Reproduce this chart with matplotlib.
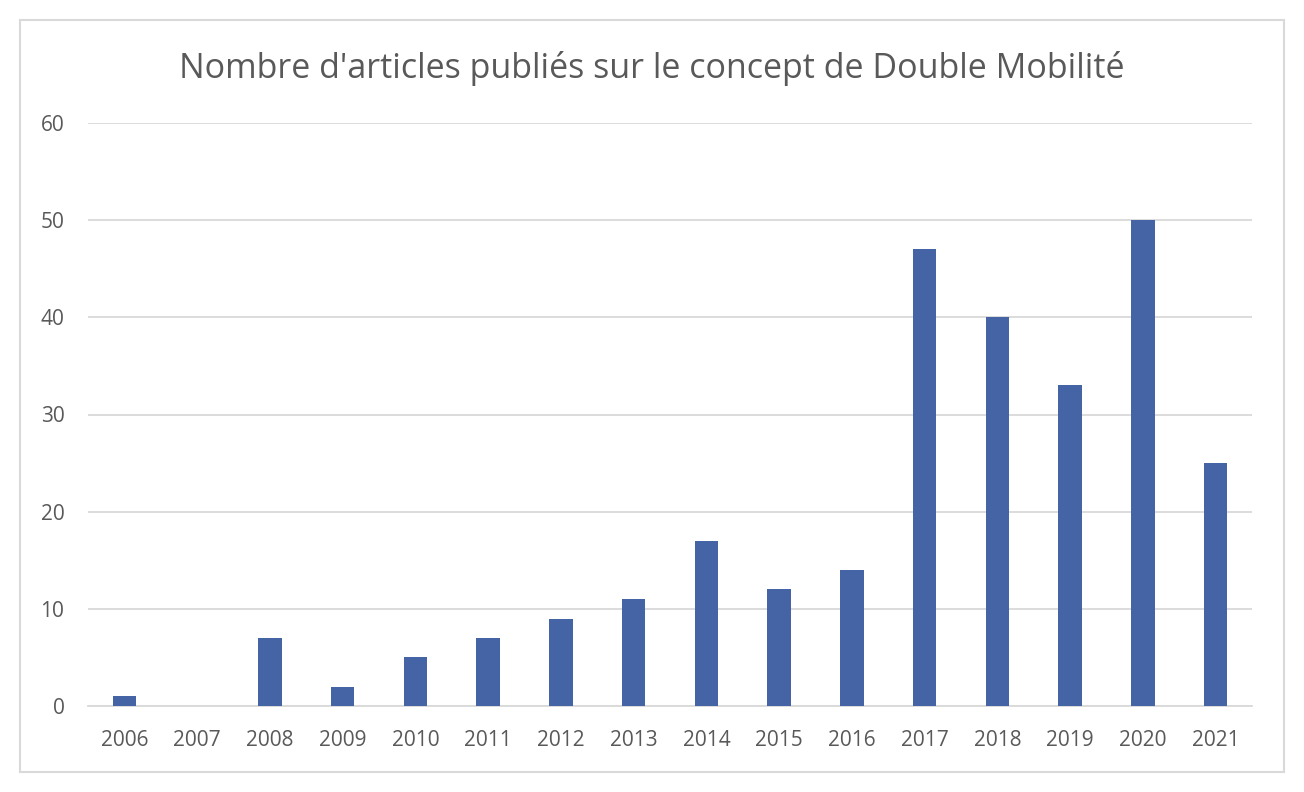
import matplotlib
matplotlib.use("Agg")
import matplotlib.pyplot as plt
from matplotlib.patches import Rectangle

years = ["2006", "2007", "2008", "2009", "2010", "2011", "2012", "2013",
         "2014", "2015", "2016", "2017", "2018", "2019", "2020", "2021"]
articles = [1, 0, 7, 2, 5, 7, 9, 11, 17, 12, 14, 47, 40, 33, 50, 25]
yticks = [0, 10, 20, 30, 40, 50, 60]
title = "Nombre d'articles publiés sur le concept de Double Mobilité"

plt.rcParams['font.family'] = ['Open Sans', 'DejaVu Sans']
W, H = 1304, 792
fig = plt.figure(figsize=(W / 100, H / 100), dpi=100)
fig.patch.set_facecolor('white')

# outer chart border
fig.patches.append(Rectangle((20 / W, 20 / H), 1264 / W, 752 / H,
                             transform=fig.transFigure, fill=False,
                             edgecolor='#D9D9D9', linewidth=1.5))

ax = fig.add_axes([88 / W, 1 - 706 / H, (1252 - 88) / W, (706 - 123) / H])
x = list(range(len(years)))
ax.bar(x, articles, width=0.32, color='#4564A6', zorder=3)
ax.set_xlim(-0.5, len(years) - 0.5)
ax.set_ylim(0, 60)
ax.set_yticks(yticks)
ax.set_xticks(x)
ax.set_xticklabels(years)
ax.yaxis.grid(True, color='#D9D9D9', linewidth=1.3, zorder=0)
ax.set_axisbelow(True)
for s in ['top', 'right', 'left']:
    ax.spines[s].set_visible(False)
ax.spines['bottom'].set_color('#D9D9D9')
ax.spines['bottom'].set_linewidth(1.3)
ax.tick_params(axis='both', length=0, labelsize=15, labelcolor='#595959')
ax.tick_params(axis='y', pad=17)
ax.tick_params(axis='x', pad=17)

fig.text(652 / W, 1 - 68 / H, title, ha='center', va='center',
         fontsize=24.5, color='#595959')

fig.savefig("out.png", dpi=100, facecolor='white')
